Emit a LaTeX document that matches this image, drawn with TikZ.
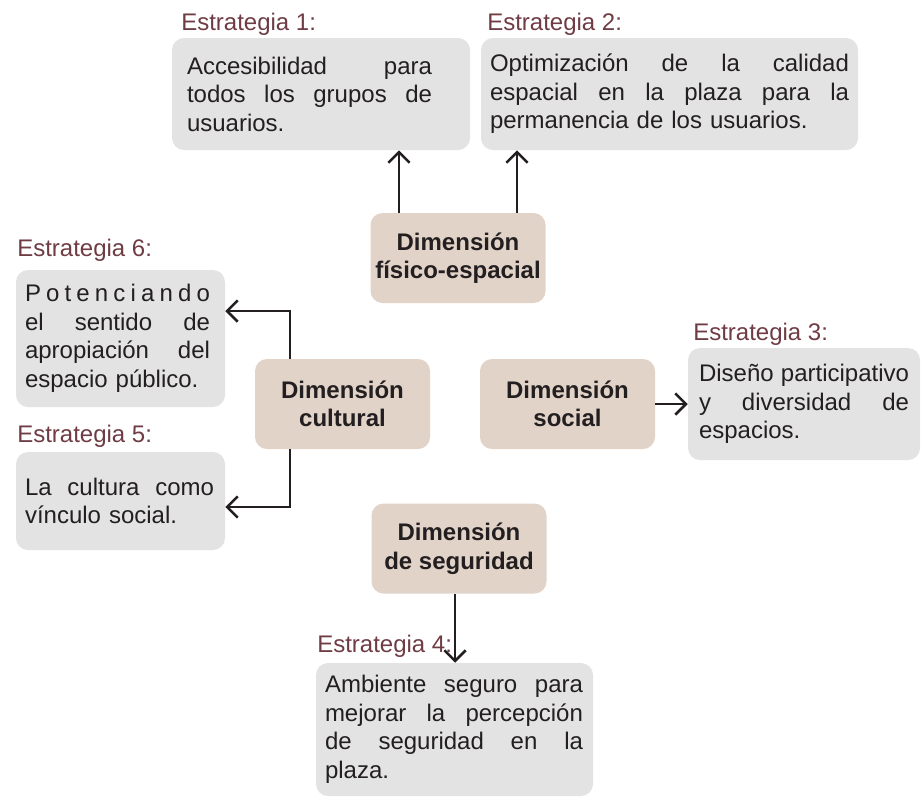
\documentclass[tikz,border=0pt]{standalone}
\usepackage{fontspec}
\setmainfont{Liberation Sans}
\usepackage{xcolor}
\usepackage{tikz}
\usetikzlibrary{arrows.meta}
\definecolor{plazagray}{HTML}{E3E3E3}
\definecolor{plazabeige}{HTML}{E2D3C9}
\definecolor{plazawine}{HTML}{6F3C44}
\definecolor{plazaink}{HTML}{231F20}
\newcommand{\jline}[2]{\leavevmode\hbox to #1{\spaceskip=0pt plus 1fil\relax #2}}

\begin{document}
\begin{tikzpicture}[
  x=0.75pt,y=-0.75pt,
  font=\fontsize{18}{21.4}\selectfont,
  dim/.style={fill=plazabeige,rounded corners=9pt,align=center,font=\fontsize{18}{21.4}\selectfont\bfseries,text=plazaink,minimum width=131.25pt,minimum height=67.5pt},
  estr/.style={fill=plazagray,rounded corners=9pt,align=left,text=plazaink,inner ysep=0pt},
  lbl/.style={anchor=base west,text=plazawine,inner sep=0pt},
  flecha/.style={-{Straight Barb[length=8pt,width=16pt]},draw=plazaink,line width=1.9pt}
]
\useasboundingbox (0,0) rectangle (924,797);
% dimensiones
\node[dim] (fisico) at (458,258) {Dimensión\\físico-espacial};
\node[dim] (cultural) at (342.5,404) {Dimensión\\cultural};
\node[dim] (social) at (567.5,404) {Dimensión\\social};
\node[dim] (seguridad) at (459,548.5) {Dimensión\\de seguridad};
% estrategias
\node[estr,inner xsep=11.25pt,text width=201pt,minimum width=223.5pt,minimum height=84pt] (e1) at (321,94) {%
\jline{183.75pt}{Accesibilidad para}\\\jline{183.75pt}{todos los grupos de}\\usuarios.};
\node[estr,inner xsep=6.75pt,text width=269.25pt,minimum width=282.75pt,minimum height=84pt] (e2) at (669.5,94) {%
\jline{269.25pt}{Optimización de la calidad}\\\jline{269.25pt}{espacial en la plaza para la}\\permanencia de los usuarios.};
\node[estr,inner xsep=8.25pt,text width=157.5pt,minimum width=174pt,minimum height=84pt] (e3) at (804,404) {%
\jline{157.5pt}{Diseño participativo}\\\jline{157.5pt}{y diversidad de}\\espacios.};
\node[estr,inner xsep=6.75pt,text width=194.25pt,minimum width=207.75pt,minimum height=99.75pt] (e4) at (454.5,729.5) {%
\jline{193.5pt}{Ambiente seguro para}\\\jline{193.5pt}{mejorar la percepción}\\\jline{193.5pt}{de seguridad en la}\\plaza.};
\node[estr,inner xsep=6.75pt,text width=143.25pt,minimum width=156.75pt,minimum height=73.5pt] (e5) at (120.5,501) {%
\jline{141.75pt}{La cultura como}\\vínculo social.};
\node[estr,inner xsep=6.75pt,text width=143.25pt,minimum width=156.75pt,minimum height=102.75pt] (e6) at (120.5,338.5) {%
\jline{138.75pt}{P o t e n c i a n d o}\\\jline{138.75pt}{el sentido de}\\\jline{138.75pt}{apropiación del}\\espacio público.};
% rotulos
\node[lbl] (lbl1) at (181,30) {Estrategia 1:};
\node[lbl] (lbl2) at (487,30) {Estrategia 2:};
\node[lbl] (lbl3) at (693,340) {Estrategia 3:};
\node[lbl] (lbl4) at (317,652) {Estrategia 4:};
\node[lbl] (lbl5) at (17,442) {Estrategia 5:};
\node[lbl] (lbl6) at (17,256) {Estrategia 6:};

\draw[flecha] ([xshift=-44.25pt]fisico.north) -- ([xshift=-44.25pt]fisico.north |- e1.south);
\draw[flecha] ([xshift=44.25pt]fisico.north) -- ([xshift=44.25pt]fisico.north |- e2.south);
\draw[flecha] ([xshift=-39.4pt]cultural.north) |- ([yshift=20.6pt]e6.east);
\draw[flecha] ([xshift=-39.4pt]cultural.south) |- ([yshift=-4.5pt]e5.east);
\draw[flecha] (social.east) -- (e3.west);
\draw[flecha] ([xshift=-3pt]seguridad.south) -- ([xshift=-3pt]seguridad.south |- e4.north);
\end{tikzpicture}
\end{document}
